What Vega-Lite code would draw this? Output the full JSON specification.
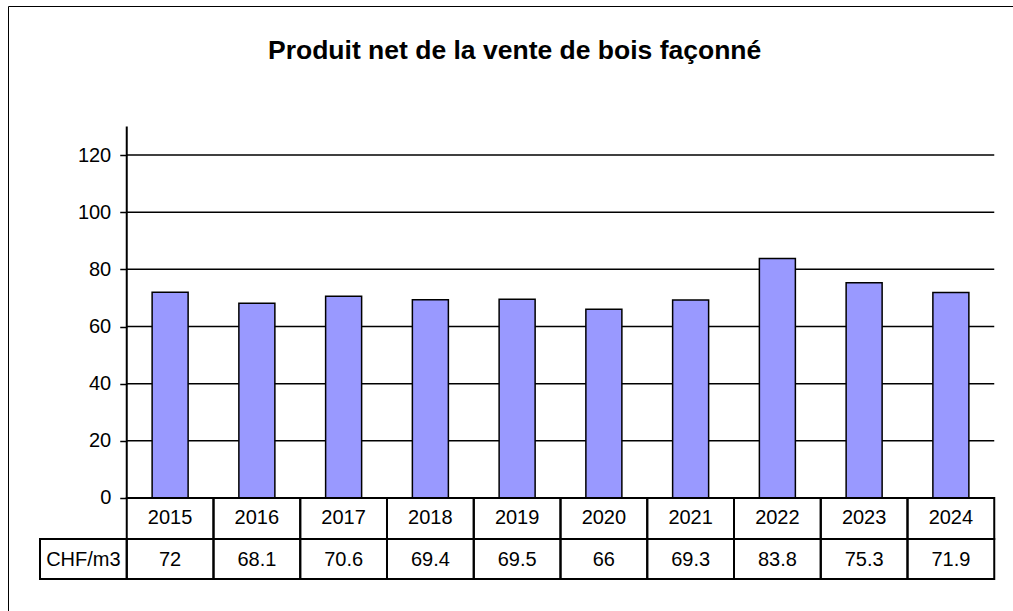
{
  "$schema": "https://vega.github.io/schema/vega-lite/v6.json",
  "width": 1010,
  "height": 610,
  "autosize": {"type": "none"},
  "padding": {"left": 8, "top": 6, "right": -5, "bottom": -5},
  "background": "white",
  "title": {
    "text": "Produit net de la vente de bois façonné",
    "font": "Liberation Sans",
    "fontSize": 26.5,
    "fontWeight": "bold",
    "color": "black",
    "anchor": "start",
    "baseline": "alphabetic",
    "offset": -79,
    "dx": 260
  },
  "config": {
    "view": {"stroke": "black", "strokeWidth": 1},
    "font": "Liberation Sans"
  },
  "data": {
    "values": [
      {"year": "2015", "value": 72},
      {"year": "2016", "value": 68.1},
      {"year": "2017", "value": 70.6},
      {"year": "2018", "value": 69.4},
      {"year": "2019", "value": 69.5},
      {"year": "2020", "value": 66},
      {"year": "2021", "value": 69.3},
      {"year": "2022", "value": 83.8},
      {"year": "2023", "value": 75.3},
      {"year": "2024", "value": 71.9}
    ]
  },
  "layer": [
    {
      "data": {"values": [{"v": 0}, {"v": 20}, {"v": 40}, {"v": 60}, {"v": 80}, {"v": 100}, {"v": 120}]},
      "mark": {"type": "rule", "color": "black", "strokeWidth": 1.5},
      "encoding": {
        "x": {"datum": "2015", "type": "nominal", "bandPosition": 0,
          "scale": {"type": "band", "domain": ["CHF/m3", "2015", "2016", "2017", "2018", "2019", "2020", "2021", "2022", "2023", "2024"], "paddingInner": 0, "paddingOuter": 0.3213, "align": 0.574, "round": false},
          "axis": null},
        "x2": {"datum": "2024", "bandPosition": 1},
        "y": {"field": "v", "type": "quantitative",
          "scale": {"domain": [-41.29, 172.15], "nice": false, "zero": false},
          "axis": {"values": [0, 20, 40, 60, 80, 100, 120], "offset": -118.75, "domain": false, "grid": false, "ticks": true, "tickSize": 7, "tickColor": "black", "tickWidth": 1.5, "labelFontSize": 20, "labelFont": "Liberation Sans", "labelColor": "black", "labelPadding": 9, "title": null}}
      }
    },
    {
      "mark": {"type": "bar", "fill": "#9999FF", "stroke": "black", "strokeWidth": 1.5, "width": {"band": 0.415}},
      "encoding": {
        "x": {"field": "year", "type": "nominal"},
        "y": {"field": "value", "type": "quantitative"}
      }
    },
    {
      "mark": {"type": "rect", "fill": "white", "fillOpacity": 0, "stroke": "black", "strokeWidth": 2},
      "encoding": {
        "x": {"field": "year", "type": "nominal"},
        "y": {"datum": 0, "type": "quantitative"},
        "y2": {"datum": -14.35}
      }
    },
    {
      "mark": {"type": "rect", "fill": "white", "fillOpacity": 0, "stroke": "black", "strokeWidth": 2},
      "encoding": {
        "x": {"field": "year", "type": "nominal"},
        "y": {"datum": -14.35, "type": "quantitative"},
        "y2": {"datum": -28.34}
      }
    },
    {
      "data": {"values": [{"label": "CHF/m3"}]},
      "mark": {"type": "rect", "fill": "white", "fillOpacity": 0, "stroke": "black", "strokeWidth": 2},
      "encoding": {
        "x": {"field": "label", "type": "nominal"},
        "y": {"datum": -14.35, "type": "quantitative"},
        "y2": {"datum": -28.34}
      }
    },
    {
      "mark": {"type": "text", "fontSize": 20, "color": "black", "baseline": "middle", "align": "center"},
      "encoding": {
        "x": {"field": "year", "type": "nominal"},
        "y": {"datum": -7.17, "type": "quantitative"},
        "text": {"field": "year", "type": "nominal"}
      }
    },
    {
      "mark": {"type": "text", "fontSize": 20, "color": "black", "baseline": "middle", "align": "center"},
      "encoding": {
        "x": {"field": "year", "type": "nominal"},
        "y": {"datum": -21.6, "type": "quantitative"},
        "text": {"field": "value", "type": "nominal"}
      }
    },
    {
      "data": {"values": [{"label": "CHF/m3"}]},
      "mark": {"type": "text", "fontSize": 20, "color": "black", "baseline": "middle", "align": "center"},
      "encoding": {
        "x": {"field": "label", "type": "nominal"},
        "y": {"datum": -21.6, "type": "quantitative"},
        "text": {"field": "label", "type": "nominal"}
      }
    },
    {
      "data": {"values": [{}]},
      "mark": {"type": "rule", "color": "black", "strokeWidth": 2},
      "encoding": {
        "x": {"datum": "2015", "type": "nominal", "bandPosition": 0},
        "y": {"datum": 130, "type": "quantitative"},
        "y2": {"datum": 0}
      }
    }
  ]
}
